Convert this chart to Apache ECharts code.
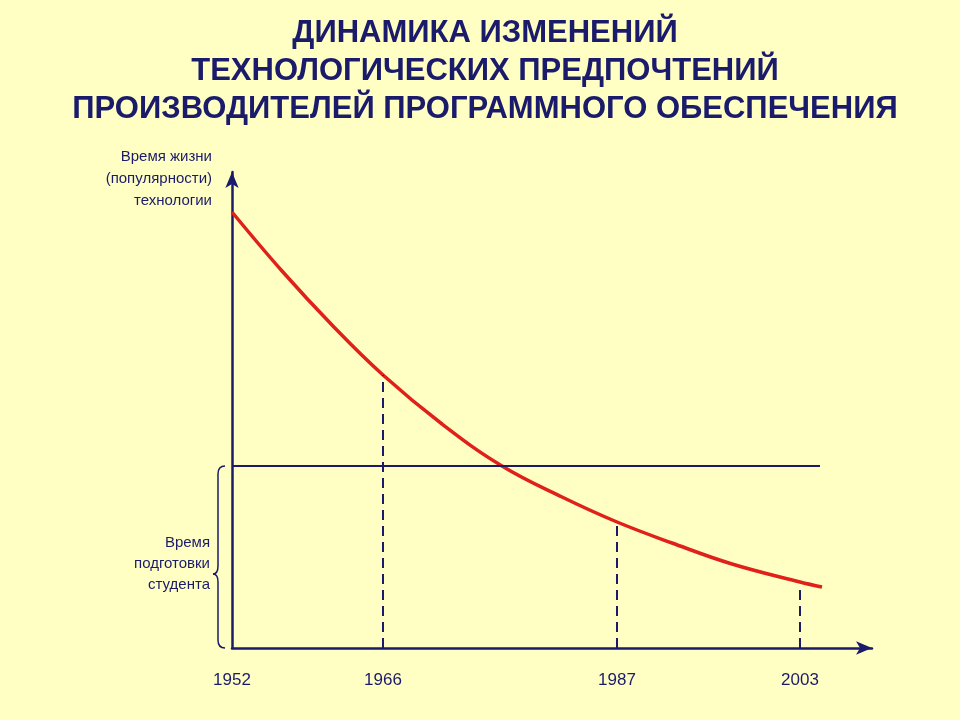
<!DOCTYPE html>
<html><head><meta charset="utf-8">
<script src="https://cdn.jsdelivr.net/npm/echarts@6/dist/echarts.min.js"></script>
<style>body{margin:0;background:#FFFFC4}#c{width:960px;height:720px}</style>
</head><body><div id="c"></div>
<script>
// x position along the axis (px from origin) and year labels
var yearPos = [0, 151, 385, 568];
var years = ['1952', '1966', '1987', '2003'];
// curve: height above the x axis
var curveX = [0, 50, 100, 151, 210, 270, 330, 385, 440, 500, 568, 590];
var curveY = [436, 377, 323, 273, 224, 182, 151, 126, 105, 84, 66, 61];
var studentLevel = 182;
var dropY = [273, 126, 63];

var navy = '#1B1B6B';
var chart = echarts.init(document.getElementById('c'));

var series = [{
    type: 'line', smooth: 0.4, symbol: 'none',
    lineStyle: {color: '#E0201A', width: 3.5},
    data: curveX.map(function (x, i) { return [x, curveY[i]]; })
}, {
    type: 'line', symbol: 'none',
    lineStyle: {color: navy, width: 2},
    data: [[0, studentLevel], [588, studentLevel]]
}];
dropY.forEach(function (y, i) {
    series.push({
        type: 'line', symbol: 'none',
        lineStyle: {color: navy, width: 2, type: [10, 6]},
        data: [[yearPos[i + 1], 0], [yearPos[i + 1], y]]
    });
});

// фигурная скобка слева
var brStyle = {stroke: navy, lineWidth: 1.5, fill: null};
var brace = [
    {type: 'bezierCurve', shape: {x1: 225, y1: 466, cpx1: 218, cpy1: 466, x2: 218, y2: 474}, style: brStyle},
    {type: 'line', shape: {x1: 218, y1: 474, x2: 218, y2: 566}, style: brStyle},
    {type: 'bezierCurve', shape: {x1: 218, y1: 566, cpx1: 218, cpy1: 574, x2: 213, y2: 574}, style: brStyle},
    {type: 'bezierCurve', shape: {x1: 213, y1: 574, cpx1: 218, cpy1: 574, x2: 218, y2: 582}, style: brStyle},
    {type: 'line', shape: {x1: 218, y1: 582, x2: 218, y2: 640}, style: brStyle},
    {type: 'bezierCurve', shape: {x1: 218, y1: 640, cpx1: 218, cpy1: 648, x2: 225, y2: 648}, style: brStyle}
];

var sideFont = '15px Liberation Sans';
chart.setOption({
    backgroundColor: '#FFFFC4',
    animation: false,
    title: {
        text: 'ДИНАМИКА ИЗМЕНЕНИЙ\nТЕХНОЛОГИЧЕСКИХ ПРЕДПОЧТЕНИЙ\nПРОИЗВОДИТЕЛЕЙ ПРОГРАММНОГО ОБЕСПЕЧЕНИЯ',
        left: '50%', top: 9, textAlign: 'center',
        textStyle: {color: navy, fontSize: 31, fontWeight: 'bold', fontFamily: 'Liberation Sans', lineHeight: 38, align: 'center'}
    },
    grid: {left: 232, top: 172, width: 640, height: 476},
    xAxis: {
        type: 'value', min: 0, max: 640,
        splitLine: {show: false}, axisTick: {show: false},
        axisLine: {lineStyle: {color: navy, width: 2.5}, symbol: ['none', 'arrow'], symbolSize: [10, 16]},
        axisLabel: {
            customValues: yearPos, margin: 24,
            color: navy, fontSize: 17, fontFamily: 'Liberation Sans',
            formatter: function (v) { return years[yearPos.indexOf(v)]; }
        }
    },
    yAxis: {
        type: 'value', min: 0, max: 476,
        splitLine: {show: false}, axisTick: {show: false}, axisLabel: {show: false},
        axisLine: {show: true, lineStyle: {color: navy, width: 2.5}, symbol: ['none', 'arrow'], symbolSize: [10, 16]}
    },
    graphic: [{
        type: 'text',
        style: {x: 212, y: 146, text: 'Время жизни\n(популярности)\nтехнологии', fill: navy, font: sideFont, lineHeight: 22, align: 'right'}
    }, {
        type: 'text',
        style: {x: 210, y: 532, text: 'Время\nподготовки\nстудента', fill: navy, font: sideFont, lineHeight: 21, align: 'right'}
    }].concat(brace),
    series: series
});
</script></body></html>
